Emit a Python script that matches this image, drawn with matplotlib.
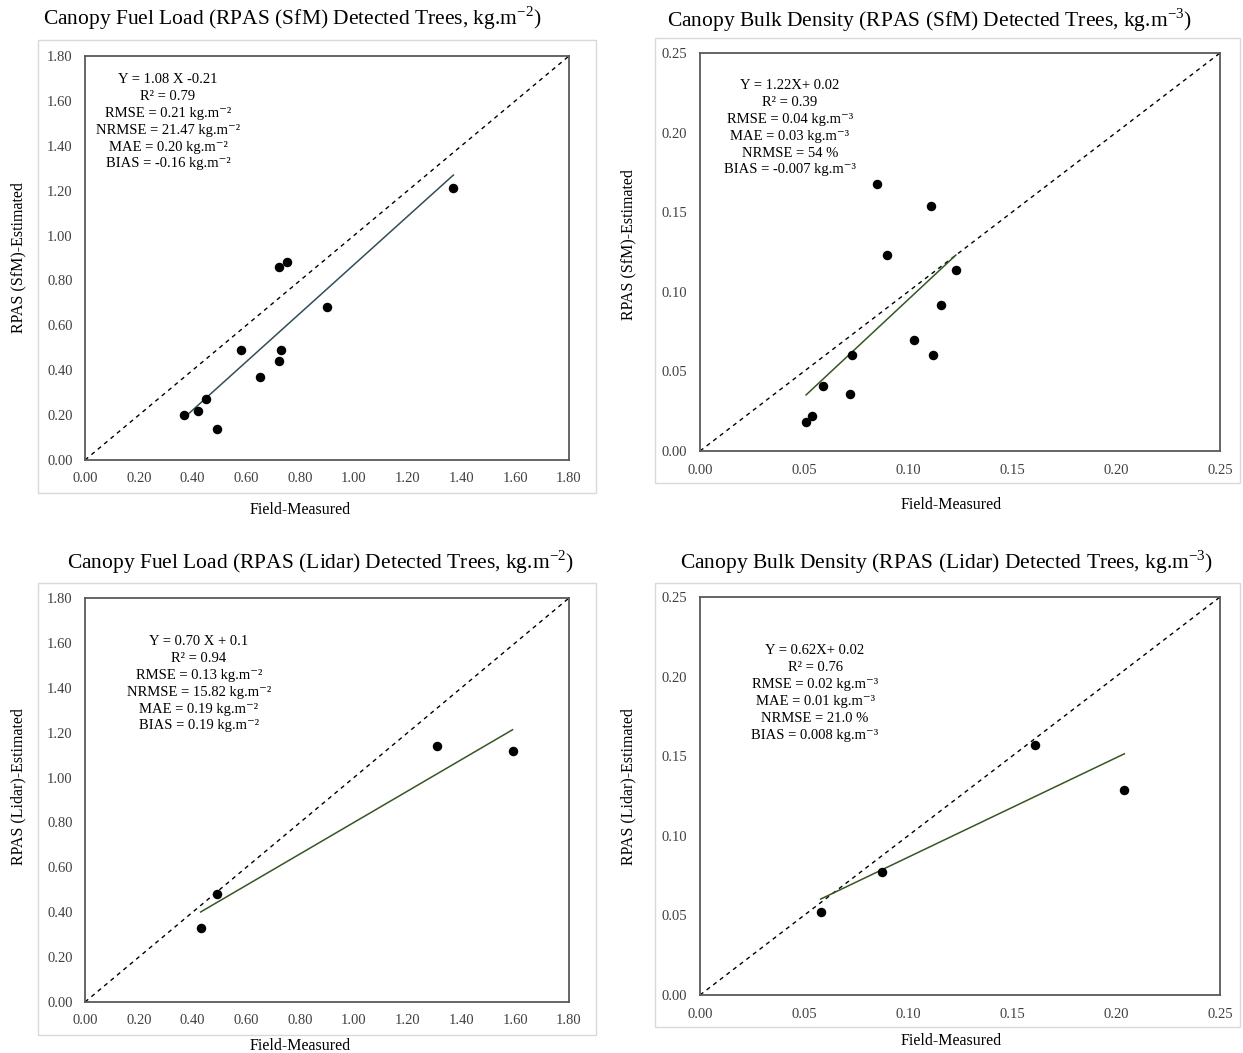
import numpy as np
import matplotlib
matplotlib.use("Agg")
import matplotlib.pyplot as plt
from matplotlib.patches import Rectangle

plt.rcParams["font.family"] = ["Liberation Serif", "DejaVu Serif"]

# field-measured vs RPAS-estimated values
sfm_cfl_field = [0.37, 0.42, 0.45, 0.49, 0.58, 0.65, 0.72, 0.73, 0.72, 0.75, 0.90, 1.37]
sfm_cfl_est = [0.20, 0.22, 0.27, 0.14, 0.49, 0.37, 0.44, 0.49, 0.86, 0.88, 0.68, 1.21]

sfm_cbd_field = [0.085, 0.111, 0.090, 0.123, 0.116, 0.103, 0.112, 0.073, 0.059, 0.072, 0.054, 0.051]
sfm_cbd_est = [0.168, 0.154, 0.123, 0.114, 0.092, 0.070, 0.060, 0.060, 0.041, 0.036, 0.022, 0.018]

lidar_cfl_field = [0.43, 0.49, 1.31, 1.59]
lidar_cfl_est = [0.33, 0.48, 1.14, 1.12]

lidar_cbd_field = [0.058, 0.0875, 0.161, 0.204]
lidar_cbd_est = [0.052, 0.077, 0.157, 0.129]

# trend line (slope, intercept) as drawn
fits = [(1.08, -0.21), (1.22, -0.027), (0.70, 0.10), (0.625, 0.024)]

titles = [
    r"Canopy Fuel Load (RPAS (SfM) Detected Trees, kg.m$^{\mathregular{-2}}$)",
    r"Canopy Bulk Density (RPAS (SfM) Detected Trees, kg.m$^{\mathregular{-3}}$)",
    r"Canopy Fuel Load (RPAS (Lidar) Detected Trees, kg.m$^{\mathregular{-2}}$)",
    r"Canopy Bulk Density (RPAS (Lidar) Detected Trees, kg.m$^{\mathregular{-3}}$)",
]
ylabels = ["RPAS (SfM)-Estimated", "RPAS (SfM)-Estimated",
           "RPAS (Lidar)-Estimated", "RPAS (Lidar)-Estimated"]

m2 = "kg.m⁻²"
m3 = "kg.m⁻³"
stats = [
    ["Y = 1.08 X -0.21", "R² = 0.79", "RMSE = 0.21 " + m2, "NRMSE = 21.47 " + m2,
     "MAE = 0.20 " + m2, "BIAS = -0.16 " + m2],
    ["Y = 1.22X+ 0.02", "R² = 0.39", "RMSE = 0.04 " + m3, "MAE = 0.03 " + m3,
     "NRMSE = 54 %", "BIAS = -0.007 " + m3],
    ["Y = 0.70 X + 0.1", "R² = 0.94", "RMSE = 0.13 " + m2, "NRMSE = 15.82 " + m2,
     "MAE = 0.19 " + m2, "BIAS = 0.19 " + m2],
    ["Y = 0.62X+ 0.02", "R² = 0.76", "RMSE = 0.02 " + m3, "MAE = 0.01 " + m3,
     "NRMSE = 21.0 %", "BIAS = 0.008 " + m3],
]

W, H = 1243, 1053
fig = plt.figure(figsize=(W / 100, H / 100), dpi=100)


def fx(x):
    return x / W


def fy(y):
    return 1 - y / H


panels = [
    dict(x=sfm_cfl_field, y=sfm_cfl_est, lim=1.8, step=0.2, box=(85, 569, 56, 460),
         border=(38, 596, 40, 493), title=(292, 18), xlab=(300, 510), ylab=(18, 258),
         txt=(168, 79), trend="#344d5a"),
    dict(x=sfm_cbd_field, y=sfm_cbd_est, lim=0.25, step=0.05, box=(700, 1220, 53, 451),
         border=(655, 1240, 38, 483), title=(929, 20), xlab=(951, 505), ylab=(628, 245),
         txt=(790, 85), trend="#375623"),
    dict(x=lidar_cfl_field, y=lidar_cfl_est, lim=1.8, step=0.2, box=(85, 569, 598, 1002),
         border=(38, 596, 583, 1035), title=(320, 562), xlab=(300, 1046), ylab=(18, 787),
         txt=(199, 641), trend="#375623"),
    dict(x=lidar_cbd_field, y=lidar_cbd_est, lim=0.25, step=0.05, box=(700, 1220, 597, 995),
         border=(655, 1240, 583, 1027), title=(947, 562), xlab=(951, 1041), ylab=(628, 787),
         txt=(815, 650), trend="#375623"),
]

for i, p in enumerate(panels):
    l, r, t, b = p["box"]
    ax = fig.add_axes([fx(l), fy(b), (r - l) / W, (b - t) / H])

    bl, br, bt, bb = p["border"]
    fig.patches.append(Rectangle((fx(bl), fy(bb)), (br - bl) / W, (bb - bt) / H,
                                 transform=fig.transFigure, fill=False,
                                 edgecolor="#d9d9d9", linewidth=1.0, zorder=0))

    lim = p["lim"]
    ax.plot([0, lim], [0, lim], color="black", linestyle=(0, (3, 3)), linewidth=1.0, zorder=2)

    slope, icpt = fits[i]
    xs = np.array([min(p["x"]), max(p["x"])])
    ax.plot(xs, slope * xs + icpt, color=p["trend"], linewidth=1.1, zorder=3)

    ax.scatter(p["x"], p["y"], s=34, color="black", zorder=4)

    ax.set_xlim(0, lim)
    ax.set_ylim(0, lim)
    ticks = np.arange(0, lim + p["step"] / 2, p["step"])
    ax.set_xticks(ticks)
    ax.set_yticks(ticks)
    ax.set_xticklabels([f"{v:.2f}" for v in ticks])
    ax.set_yticklabels([f"{v:.2f}" for v in ticks])
    ax.tick_params(length=0, labelsize=10.5, colors="#404040", pad=9)
    for s in ax.spines.values():
        s.set_color("#595959")
        s.set_linewidth(1.3)

    fig.text(fx(p["title"][0]), fy(p["title"][1]), titles[i], ha="center", va="center",
             fontsize=15.5)
    fig.text(fx(p["xlab"][0]), fy(p["xlab"][1]), "Field-Measured", ha="center", va="center",
             fontsize=11.5)
    fig.text(fx(p["ylab"][0]), fy(p["ylab"][1]), ylabels[i], ha="center", va="center",
             rotation=90, fontsize=11.5)

    # stats box, one line at a time so spacing stays even
    cx, cy = p["txt"]
    for k, line in enumerate(stats[i]):
        fig.text(fx(cx), fy(cy + 4 + 16.9 * k), line, ha="center", va="baseline",
                 fontsize=10.5)

fig.savefig("out.png", dpi=100)
